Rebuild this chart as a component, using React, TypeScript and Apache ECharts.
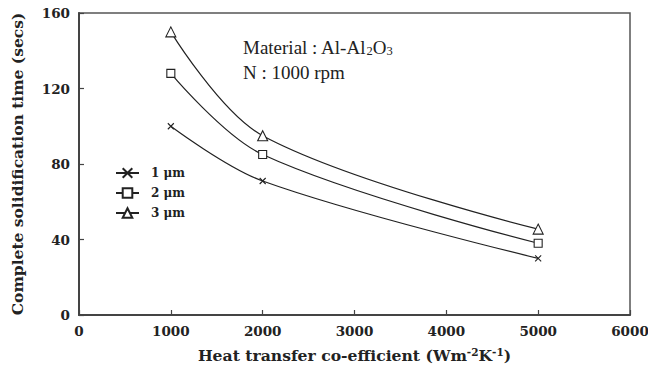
import React, { useEffect, useRef } from "react";
import * as echarts from "echarts";

// Heat transfer coefficient (W m^-2 K^-1)
const hValues = [1000, 2000, 5000];
// Complete solidification time (s) per particle size
const time1um = [100, 71, 30];
const time2um = [128, 85, 38];
const time3um = [150, 95, 45.5];
const seriesNames = ["1 \u03bcm", "2 \u03bcm", "3 \u03bcm"];
const yTicks = [0, 40, 80, 120, 160];
const xTicks = [0, 1000, 2000, 3000, 4000, 5000, 6000];

const SERIF = "'Liberation Serif', 'DejaVu Serif', serif";
const WIDE = "'DejaVu Serif', 'Liberation Serif', serif";
const CROSS = "path://M0,0L10,10M10,0L0,10";

export default function App() {
  const ref = useRef<HTMLDivElement>(null);

  useEffect(() => {
    if (!ref.current) return;
    // Let the chart use the whole window so the last tick label fits.
    document.body.style.margin = "0";
    const chart = echarts.init(ref.current, null, { renderer: "svg" });

    const pairs = (ys: number[]) => hValues.map((x, i) => [x, ys[i]]);
    const makeSeries = (name: string, ys: number[], symbol: string, size: number) => ({
      name,
      type: "line",
      data: pairs(ys),
      smooth: 0.35,
      symbol,
      symbolSize: size,
      showAllSymbol: true,
      lineStyle: { color: "#222", width: 1.2 },
      itemStyle: { color: "#fff", borderColor: "#222", borderWidth: 1.1 },
    });

    const tickLabel = {
      fontFamily: WIDE,
      fontWeight: "bold",
      fontSize: 13.5,
      color: "#222",
      margin: 9,
      overflow: "none",
      hideOverlap: false,
      showMaxLabel: true,
      showMinLabel: true,
      formatter: (v: number) => String(v),
    };

    chart.setOption({
      animation: false,
      backgroundColor: "#fff",
      grid: {
        left: 79,
        top: 13,
        width: 551,
        height: 302,
        outerBoundsMode: "none",
        containLabel: false,
        show: true,
        borderColor: "#555",
        borderWidth: 1.5,
        backgroundColor: "transparent",
      },
      legend: {
        orient: "vertical",
        left: 115,
        top: 167,
        padding: 0,
        itemWidth: 23,
        itemHeight: 12,
        itemGap: 8,
        data: seriesNames,
        textStyle: {
          fontFamily: WIDE,
          fontWeight: "bold",
          fontSize: 12,
          color: "#222",
          padding: [0, 0, 0, 7],
        },
      },
      xAxis: {
        type: "value",
        min: xTicks[0],
        max: xTicks[xTicks.length - 1],
        interval: 1000,
        name: "{b|Heat transfer co-efficient (Wm}{sup|-2}{b|K}{sup|-1}{b|)}",
        nameLocation: "middle",
        nameGap: 31,
        nameTextStyle: {
          rich: {
            b: { fontFamily: WIDE, fontWeight: "bold", fontSize: 15.6, color: "#222" },
            sup: {
              fontFamily: WIDE,
              fontWeight: "bold",
              fontSize: 10.5,
              color: "#222",
              padding: [0, 0, 8, 0],
            },
          },
        },
        axisLine: { lineStyle: { color: "#444", width: 2 } },
        axisTick: { inside: true, length: 5, lineStyle: { color: "#444", width: 1.2 } },
        axisLabel: tickLabel,
        splitLine: { show: false },
      },
      yAxis: {
        type: "value",
        min: yTicks[0],
        max: yTicks[yTicks.length - 1],
        interval: 40,
        name: "Complete solidification time (secs)",
        nameLocation: "middle",
        nameGap: 54,
        nameTextStyle: {
          fontFamily: WIDE,
          fontWeight: "bold",
          fontSize: 15.5,
          color: "#222",
        },
        axisLine: { lineStyle: { color: "#444", width: 2 } },
        axisTick: { inside: true, length: 5, lineStyle: { color: "#444", width: 1.2 } },
        axisLabel: tickLabel,
        splitLine: { show: false },
      },
      graphic: [
        {
          type: "text",
          left: 243,
          top: 38,
          style: {
            text: "{n|Material : Al-Al}{s|2}{n|O}{s|3}",
            rich: {
              n: { fontFamily: SERIF, fontSize: 19, fill: "#222" },
              s: { fontFamily: SERIF, fontSize: 12.5, fill: "#222", padding: [7, 0, 0, 0] },
            },
          },
        },
        {
          type: "text",
          left: 243,
          top: 63,
          style: {
            text: "N : 1000 rpm",
            font: `19px ${SERIF}`,
            fill: "#222",
          },
        },
      ],
      series: [
        makeSeries(seriesNames[0], time1um, CROSS, 6),
        makeSeries(seriesNames[1], time2um, "rect", 8),
        makeSeries(seriesNames[2], time3um, "triangle", 10),
      ],
    });

    return () => chart.dispose();
  }, []);

  return <div ref={ref} style={{ width: 648, height: 381 }} />;
}
